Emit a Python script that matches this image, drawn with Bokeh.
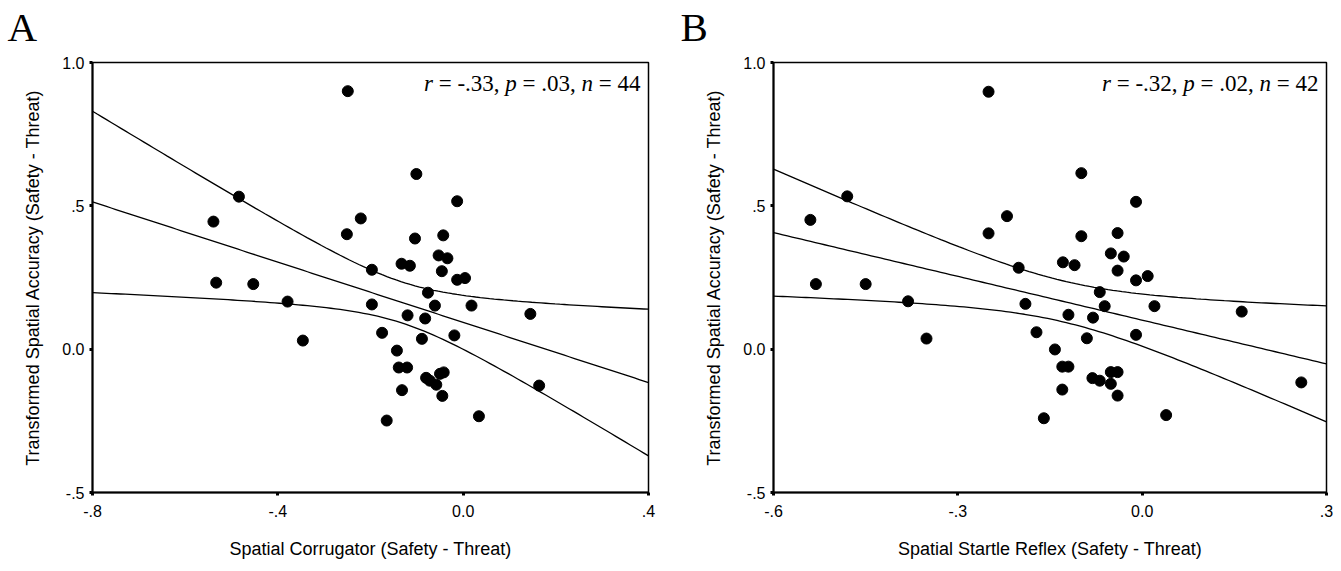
import numpy as np
from bokeh.plotting import figure
from bokeh.layouts import row
from bokeh.models import FixedTicker, Label
from bokeh.embed import file_html
from bokeh.resources import INLINE

# ---------------- data ----------------
corr_x = [-0.249, -0.484, -0.539, -0.533, -0.453, -0.379, -0.346, -0.221, -0.251, -0.197,
          -0.197, -0.175, -0.165, -0.143, -0.139, -0.121, -0.132, -0.133, -0.115, -0.104,
          -0.120, -0.101, -0.089, -0.082, -0.076, -0.080, -0.061, -0.053, -0.043, -0.034,
          -0.046, -0.058, -0.050, -0.045, -0.013, -0.013, 0.004, -0.019, 0.018, 0.034,
          0.145, 0.164, -0.072, -0.042]
corr_y = [0.900, 0.532, 0.445, 0.232, 0.227, 0.166, 0.030, 0.456, 0.401, 0.277,
          0.156, 0.057, -0.249, -0.005, -0.064, -0.064, -0.143, 0.298, 0.291, 0.386,
          0.118, 0.611, 0.036, 0.107, 0.197, -0.100, 0.152, 0.327, 0.397, 0.317,
          0.272, -0.124, -0.086, -0.163, 0.516, 0.242, 0.248, 0.048, 0.152, -0.234,
          0.123, -0.127, -0.110, -0.081]

startle_x = [-0.250, -0.480, -0.540, -0.220, -0.250, -0.531, -0.450, -0.381, -0.351, -0.201,
             -0.190, -0.172, -0.142, -0.160, -0.099, -0.010, -0.099, -0.040, -0.129, -0.110,
             -0.051, -0.030, -0.040, -0.010, 0.009, -0.069, -0.061, 0.020, -0.120, -0.080,
             -0.090, -0.010, -0.130, -0.120, -0.051, -0.040, -0.081, -0.069, -0.051, -0.130,
             -0.040, 0.039, 0.162, 0.259]
startle_y = [0.898, 0.533, 0.451, 0.464, 0.404, 0.227, 0.227, 0.167, 0.037, 0.284,
             0.158, 0.059, -0.001, -0.241, 0.614, 0.514, 0.394, 0.405, 0.303, 0.293,
             0.334, 0.323, 0.274, 0.240, 0.255, 0.199, 0.150, 0.150, 0.120, 0.110,
             0.038, 0.050, -0.061, -0.061, -0.080, -0.080, -0.101, -0.110, -0.121, -0.141,
             -0.162, -0.230, 0.131, -0.116]

corr_ticks = [-0.8, -0.4, 0.0, 0.4]
corr_tick_labels = ["-.8", "-.4", "0.0", ".4"]
startle_ticks = [-0.6, -0.3, 0.0, 0.3]
startle_tick_labels = ["-.6", "-.3", "0.0", ".3"]
y_ticks = [-0.5, 0.0, 0.5, 1.0]
y_tick_labels = ["-.5", "0.0", ".5", "1.0"]

y_title = "Transformed Spatial Accuracy (Safety - Threat)"
corr_title = "Spatial Corrugator (Safety - Threat)"
startle_title = "Spatial Startle Reflex (Safety - Threat)"
corr_stats = [("r", True), (" = -.33, ", False), ("p", True), (" = .03, ", False), ("n", True), (" = 44", False)]
startle_stats = [("r", True), (" = -.32, ", False), ("p", True), (" = .02, ", False), ("n", True), (" = 42", False)]

# ----------------------------------------------------------------
SANS = "Liberation Sans"
SERIF = "Liberation Serif"

# Times-compatible advance widths (em)
REG = {" ": 0.25, "=": 0.564, "-": 0.333, ".": 0.25, ",": 0.25}
ITA = {"r": 0.389, "p": 0.5, "n": 0.5}


def seg_width(text, italic, size):
    w = 0.0
    for ch in text:
        w += (ITA.get(ch, 0.5) if italic else REG.get(ch, 0.5))
    return w * size


def fit_band(xs, ys, lo, hi, t=2.02):
    x = np.asarray(xs, float)
    y = np.asarray(ys, float)
    n = len(x)
    b, a = np.polyfit(x, y, 1)
    res = y - (a + b * x)
    s = np.sqrt(np.sum(res ** 2) / (n - 2))
    sxx = np.sum((x - x.mean()) ** 2)
    xg = np.linspace(lo, hi, 120)
    yh = a + b * xg
    se = s * np.sqrt(1.0 / n + (xg - x.mean()) ** 2 / sxx)
    return xg, yh, yh + t * se, yh - t * se


def panel(xs, ys, ticks, tick_labels, xlabel, stats, letter, fw, left_border,
          right_border, letter_offset):
    lo, hi = ticks[0], ticks[-1]
    p = figure(frame_width=fw, frame_height=430, x_range=(lo, hi), y_range=(-0.5, 1.0),
               output_backend="svg", toolbar_location=None,
               min_border_left=left_border, min_border_right=right_border,
               min_border_top=75, min_border_bottom=75, margin=(-13, 0, 0, 0))
    p.grid.visible = False
    p.outline_line_color = "black"
    p.outline_line_width = 1.5
    p.background_fill_color = "white"
    p.border_fill_color = "white"

    # panel letter as title
    p.title.text = letter
    p.title.text_font = SERIF
    p.title.text_font_size = "41px"
    p.title.text_font_style = "normal"
    p.title.text_color = "black"
    p.title.align = "left"
    p.title.offset = letter_offset
    p.title.standoff = 26

    for ax in (p.xaxis[0], p.yaxis[0]):
        ax.axis_line_color = "black"
        ax.axis_line_width = 2
        ax.major_tick_line_color = "black"
        ax.major_tick_line_width = 3
        ax.major_tick_out = 3
        ax.major_tick_in = 0
        ax.minor_tick_line_color = None
        ax.major_label_text_font = SANS
        ax.major_label_text_font_size = "16px"
        ax.major_label_text_color = "black"
        ax.axis_label_text_font = SANS
        ax.axis_label_text_font_size = "18px"
        ax.axis_label_text_font_style = "normal"
        ax.axis_label_text_color = "black"

    p.xaxis.ticker = FixedTicker(ticks=ticks)
    p.xaxis.major_label_overrides = {t: l for t, l in zip(ticks, tick_labels)}
    p.yaxis.ticker = FixedTicker(ticks=y_ticks)
    p.yaxis.major_label_overrides = {t: l for t, l in zip(y_ticks, y_tick_labels)}
    p.xaxis.axis_label = xlabel
    p.yaxis.axis_label = y_title
    p.xaxis.major_label_standoff = 9
    p.yaxis.major_label_standoff = 5
    p.xaxis.axis_label_standoff = 19
    p.yaxis.axis_label_standoff = 16

    xg, yh, up, dn = fit_band(xs, ys, lo, hi)
    for yy in (yh, up, dn):
        p.line(xg, yy, line_color="black", line_width=1.3)

    p.scatter(xs, ys, size=11, fill_color="black", line_color="black")

    # statistics text, right aligned inside the frame (spaces become offsets)
    size = 23
    total = sum(seg_width(t, it, size) for t, it in stats)
    cur = -8 - total
    for t, it in stats:
        lead = len(t) - len(t.lstrip(" "))
        core = t.strip(" ")
        p.add_layout(Label(x=hi, y=1.0, x_offset=cur + seg_width(" " * lead, it, size),
                           y_offset=-21, text=core,
                           text_font=SERIF, text_font_size=f"{size}px",
                           text_font_style="italic" if it else "normal",
                           text_baseline="alphabetic", text_align="left",
                           text_color="black"))
        cur += seg_width(t, it, size)
    return p


pA = panel(corr_x, corr_y, corr_ticks, corr_tick_labels, corr_title, corr_stats, "A",
           556, 92, 29, -85)
pB = panel(startle_x, startle_y, startle_ticks, startle_tick_labels, startle_title,
           startle_stats, "B", 553, 96, 7, -93)

layout = row(pA, pB)
open("out.html", "w").write(file_html(layout, INLINE))
